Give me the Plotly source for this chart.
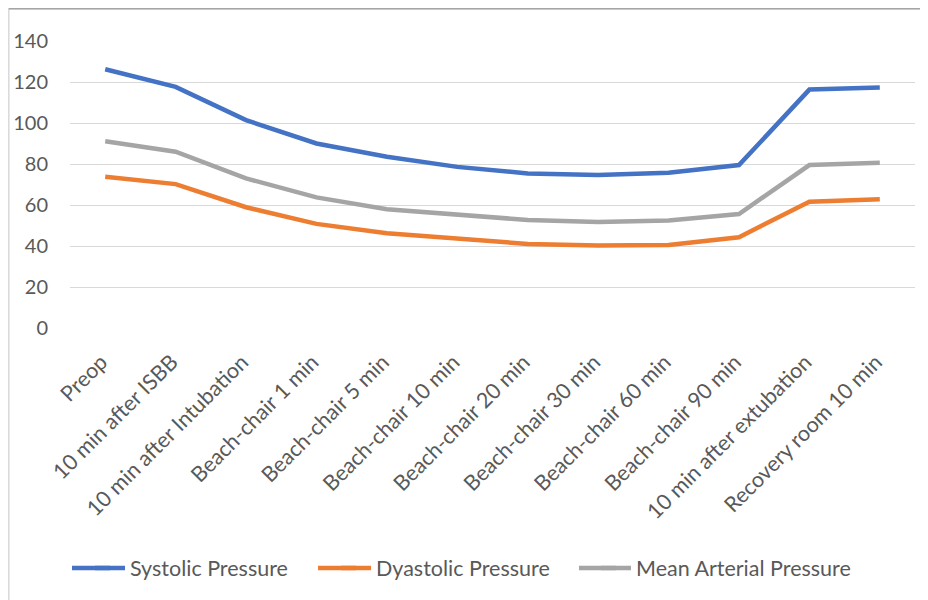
import plotly.graph_objects as go

categories = ["Preop", "10 min after ISBB", "10 min after Intubation", "Beach-chair 1 min",
              "Beach-chair 5 min", "Beach-chair 10 min", "Beach-chair 20 min", "Beach-chair 30 min",
              "Beach-chair 60 min", "Beach-chair 90 min", "10 min after extubation", "Recovery room 10 min"]
systolic = [126.2, 117.6, 101.4, 90.0, 83.5, 78.6, 75.4, 74.6, 75.7, 79.5, 116.3, 117.3]
diastolic = [73.8, 70.2, 58.9, 50.8, 46.2, 43.8, 41.0, 40.2, 40.5, 44.3, 61.6, 62.8]
mean_arterial = [91.1, 86.0, 73.0, 63.7, 57.9, 55.1, 52.7, 51.7, 52.5, 55.6, 79.5, 80.6]
y_ticks = [0, 20, 40, 60, 80, 100, 120, 140]

series_names = ["Systolic Pressure", "Dyastolic Pressure", "Mean Arterial Pressure"]
series_values = [systolic, diastolic, mean_arterial]
series_colors = ["#4472C4", "#ED7D31", "#A5A5A5"]
legend_ids = ["legend", "legend2", "legend3"]

W, H = 920, 592
L, R, T, B = 62, 13, 33, 272
pw, ph = W - L - R, H - T - B

def px(x):
    return (x - L) / pw

def py(y):
    return (H - B - y) / ph

fig = go.Figure()
for name, vals, col, lg in zip(series_names, series_values, series_colors, legend_ids):
    fig.add_trace(go.Scatter(x=categories, y=vals, mode="lines", name=name, legend=lg,
                             line=dict(color=col, width=4.5)))

font_family = "Lato, 'Open Sans', sans-serif"
legend_left = [82, 328, 588]   # figure px of each legend box
legend_y = 560
line_start = [64, 310, 571]    # figure px where each legend line starts

def legend_cfg(xpos):
    return dict(orientation="h", x=px(xpos), xanchor="left", y=py(legend_y), yanchor="middle",
                font=dict(size=21.5, color="#595959"), bgcolor="rgba(0,0,0,0)")

fig.update_layout(
    width=W, height=H,
    margin=dict(l=L, r=R, t=T, b=B, autoexpand=False),
    paper_bgcolor="white", plot_bgcolor="white",
    font=dict(family=font_family, color="#595959", size=20),
    showlegend=True,
    legend=legend_cfg(legend_left[0]),
    legend2=legend_cfg(legend_left[1]),
    legend3=legend_cfg(legend_left[2]),
    xaxis=dict(type="category", showgrid=False, showline=False, zeroline=False,
               tickangle=-45, ticks="outside", ticklen=12, tickcolor="rgba(0,0,0,0)",
               tickfont=dict(size=21.5, color="#595959"), ticklabelshift=-4,
               range=[-0.5, len(categories) - 0.5]),
    yaxis=dict(range=[0, 140], tickvals=y_ticks, showgrid=True, gridcolor="#D9D9D9",
               gridwidth=1.3, zeroline=False, showline=False, ticks="",
               tickfont=dict(size=20, color="#595959"), ticklabelstandoff=21),
)
# chart-area border
fig.add_shape(type="rect", xref="paper", yref="paper",
              x0=px(0.8), x1=px(918), y0=py(H + 20), y1=py(0.8),
              line=dict(color="#D9D9D9", width=1.5), fillcolor="rgba(0,0,0,0)", layer="below")
fig.add_shape(type="line", xref="paper", yref="paper",
              x0=px(0.8), x1=px(918), y0=py(0.8), y1=py(0.8),
              line=dict(color="#A6A6A6", width=1.5), layer="below")
# lengthen legend key lines to Excel style
for ls, lft, col in zip(line_start, legend_left, series_colors):
    fig.add_shape(type="line", xref="paper", yref="paper",
                  x0=px(ls), x1=px(lft + 20), y0=py(legend_y), y1=py(legend_y),
                  line=dict(color=col, width=4.5))
fig.write_html("out.html")
